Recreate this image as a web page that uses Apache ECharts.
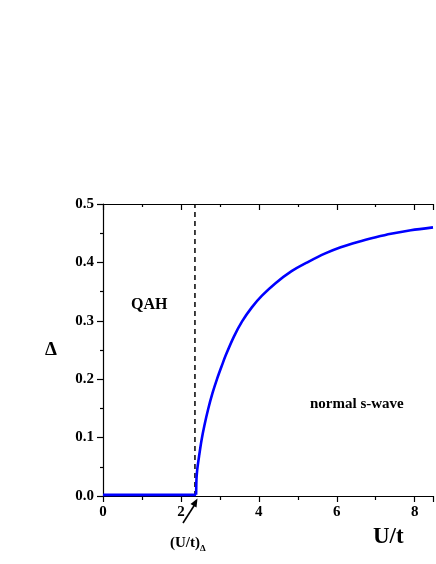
<!DOCTYPE html>
<html>
<head>
<meta charset="utf-8">
<script src="https://cdn.jsdelivr.net/npm/echarts@6/dist/echarts.min.js"></script>
<style>html,body{margin:0;padding:0;background:#fff}#c{width:436px;height:564px}</style>
</head>
<body>
<div id="c"></div>
<script>
// Flat (QAH) region
const flatU = [0, 2.39];
const flatDelta = [0.002, 0.002];
// Normal s-wave branch
const curveU = [2.39, 2.395, 2.40, 2.42, 2.47, 2.53, 2.60, 2.70, 2.81, 2.93, 3.06, 3.15, 3.36, 3.57, 3.82, 4.08, 4.42, 4.84, 5.27, 5.69, 6.10, 6.54, 7.00, 7.39, 7.90, 8.47];
const curveDelta = [0.002, 0.020, 0.030, 0.046, 0.070, 0.096, 0.120, 0.149, 0.176, 0.201, 0.225, 0.241, 0.273, 0.299, 0.323, 0.343, 0.364, 0.385, 0.401, 0.415, 0.426, 0.435, 0.443, 0.449, 0.455, 0.460];
// Critical point (dashed line)
const criticalU = 2.36;
const xTicks = [0, 2, 4, 6, 8];
const yTicks = [0.0, 0.1, 0.2, 0.3, 0.4, 0.5];

const font = 'Liberation Serif';
const chart = echarts.init(document.getElementById('c'));
const xCommon = {
  type: 'value', min: 0, max: 8.47, interval: 2,
  splitLine: {show: false}
};
chart.setOption({
  animation: false,
  grid: {left: 103, right: 0, top: 204, bottom: 68, containLabel: false},
  xAxis: [
    Object.assign({}, xCommon, {
      position: 'bottom',
      axisLine: {lineStyle: {color: '#000', width: 1.2}},
      axisTick: {inside: false, length: 6, lineStyle: {color: '#000', width: 1.2}},
      minorTick: {show: true, splitNumber: 2, length: 4, lineStyle: {color: '#000', width: 1.2}},
      axisLabel: {color: '#000', fontFamily: font, fontWeight: 'bold', fontSize: 15, margin: 9,
        formatter: v => xTicks.includes(v) ? String(v) : ''},
      name: 'U/t', nameLocation: 'end',
      nameTextStyle: {color: '#000', fontFamily: font, fontWeight: 'bold', fontSize: 23, align: 'left', verticalAlign: 'top',
        padding: [30, 0, 0, -75]}
    }),
    Object.assign({}, xCommon, {
      position: 'top',
      axisLine: {lineStyle: {color: '#000', width: 1.2}},
      axisTick: {inside: true, length: 6, lineStyle: {color: '#000', width: 1.2}},
      minorTick: {show: true, splitNumber: 2, length: 3, lineStyle: {color: '#000', width: 1.2}},
      axisLabel: {show: false}
    })
  ],
  yAxis: {
    type: 'value', min: 0, max: 0.5, interval: 0.1,
    splitLine: {show: false},
    axisLine: {show: true, lineStyle: {color: '#000', width: 1.2}},
    axisTick: {show: true, inside: false, length: 6, lineStyle: {color: '#000', width: 1.2}},
    minorTick: {show: true, splitNumber: 2, length: 3, lineStyle: {color: '#000', width: 1.2}},
    axisLabel: {color: '#000', fontFamily: font, fontWeight: 'bold', fontSize: 15, margin: 9,
      formatter: v => v.toFixed(1)},
    name: 'Δ', nameLocation: 'middle', nameRotate: 0, nameGap: 46,
    nameTextStyle: {color: '#000', fontFamily: font, fontWeight: 'bold', fontSize: 19}
  },
  series: [
    {type: 'line', data: flatU.map((u, i) => [u, flatDelta[i]]), showSymbol: false,
      lineStyle: {color: '#0000ff', width: 2.6}, z: 3},
    {type: 'line', data: curveU.map((u, i) => [u, curveDelta[i]]), showSymbol: false, smooth: 0.3,
      lineStyle: {color: '#0000ff', width: 2.6}, z: 3},
    {type: 'line', data: [[criticalU, 0], [criticalU, 0.5]], showSymbol: false,
      lineStyle: {color: '#000', width: 1.5, type: [5, 4]}, z: 2}
  ],
  graphic: [
    {type: 'text', left: 131, top: 297, style: {text: 'QAH', font: 'bold 16px "Liberation Serif"', fill: '#000'}},
    {type: 'text', left: 310, top: 397, style: {text: 'normal s-wave', font: 'bold 15px "Liberation Serif"', fill: '#000'}},
    {type: 'text', left: 170, top: 536, style: {
      text: '{a|(U/t)}{b|Δ}', rich: {
        a: {font: 'bold 15px "Liberation Serif"', fill: '#000'},
        b: {font: 'bold 9px "Liberation Serif"', fill: '#000', padding: [10, 0, 0, 0]}
      }}},
    {type: 'line', shape: {x1: 183, y1: 523, x2: 194.5, y2: 505}, style: {stroke: '#000', lineWidth: 1.6}},
    {type: 'polygon', shape: {points: [[197.5, 498.5], [190.5, 504], [196.5, 507.5]]}, style: {fill: '#000'}}
  ]
});
</script>
</body>
</html>
